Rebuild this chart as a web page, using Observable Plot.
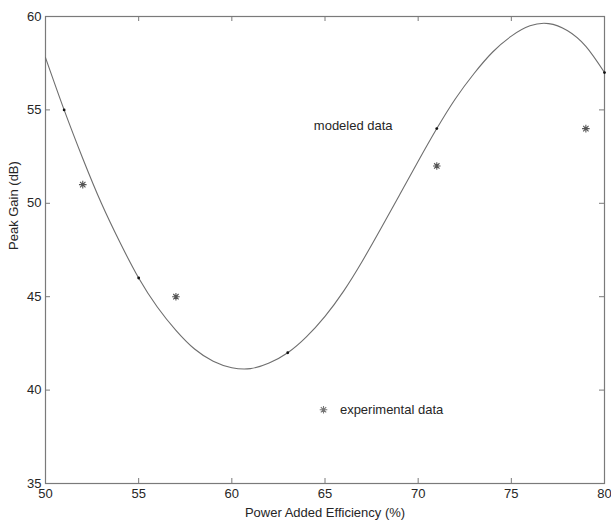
<!DOCTYPE html>
<html>
<head>
<meta charset="utf-8">
<script src="https://cdn.jsdelivr.net/npm/d3@7"></script>
<script src="https://cdn.jsdelivr.net/npm/@observablehq/plot@0.6"></script>
<style>
  html, body { margin: 0; padding: 0; background: #fff; }
  #chart { width: 611px; height: 520px; }
</style>
</head>
<body>
<div id="chart"></div>
<script>
// Fitted curve (one reading per x unit)
const curveX = [50, 51, 52, 53, 54, 55, 56, 57, 58, 59, 60, 61, 62, 63, 64, 65, 66, 67, 68, 69, 70, 71, 72, 73, 74, 75, 76, 77, 78, 79, 80];
const curveY = [57.8, 55.0, 52.4, 50.0, 47.9, 46.0, 44.45, 43.2, 42.2, 41.55, 41.2, 41.15, 41.45, 42.0, 42.85, 43.95, 45.3, 46.9, 48.65, 50.45, 52.25, 54.0, 55.6, 56.95, 58.1, 58.95, 59.5, 59.62, 59.25, 58.4, 57.0];

// Modeled data points
const modelX = [51, 55, 63, 71, 80];
const modelY = [55, 46, 42, 54, 57];

// Experimental data points
const expX = [52, 57, 71, 79];
const expY = [51, 45, 52, 54];

// Ticks
const xTicks = [50, 55, 60, 65, 70, 75, 80];
const yTicks = [35, 40, 45, 50, 55, 60];

// Annotations
const labels = [
  {x: 64.4, y: 54.16, text: "modeled data"},
  {x: 65.8, y: 38.96, text: "experimental data"}
];
const legendStar = [{x: 64.92, y: 38.95}];

const curve = curveX.map((x, i) => ({x, y: curveY[i]}));
const model = modelX.map((x, i) => ({x, y: modelY[i]}));
const exp = expX.map((x, i) => ({x, y: expY[i]}));

const star8 = {
  draw(ctx, size) {
    const r = Math.sqrt(size / Math.PI);
    for (let k = 0; k < 4; k++) {
      const a = k * Math.PI / 4;
      const c = Math.cos(a) * r, s = Math.sin(a) * r;
      ctx.moveTo(-c, -s);
      ctx.lineTo(c, s);
    }
  }
};

const W = 611, H = 520;
const mL = 45, mR = 7, mT = 16, mB = 37;
const plotH = H - mT - mB;
const plotW = W - mL - mR;
const axisColor = "#7a7a7a";
const textColor = "#262626";

const chart = Plot.plot({
  width: W,
  height: H,
  marginLeft: mL,
  marginRight: mR,
  marginTop: mT,
  marginBottom: mB,
  style: {fontFamily: "'Liberation Sans', Arial, sans-serif", fontSize: "13px", color: textColor, background: "#fff"},
  x: {domain: [50, 80]},
  y: {domain: [35, 60]},
  marks: [
    Plot.frame({stroke: axisColor, strokeWidth: 1.2}),
    // inward ticks
    Plot.ruleX(xTicks, {x: d => d, insetTop: plotH - 5, stroke: axisColor}),
    Plot.ruleX(xTicks, {x: d => d, insetBottom: plotH - 5, stroke: axisColor}),
    Plot.ruleY(yTicks, {y: d => d, insetRight: plotW - 5, stroke: axisColor}),
    Plot.ruleY(yTicks, {y: d => d, insetLeft: plotW - 5, stroke: axisColor}),
    Plot.axisX({ticks: xTicks, tickSize: 0, tickPadding: 5, label: null, fill: textColor, fontSize: 13}),
    Plot.axisY({ticks: yTicks, tickSize: 0, tickPadding: 4, label: null, fill: textColor, fontSize: 13}),
    Plot.text(["Power Added Efficiency (%)"], {frameAnchor: "bottom", dy: 29, lineAnchor: "middle", fill: textColor, fontSize: 13}),
    Plot.text(["Peak Gain (dB)"], {frameAnchor: "left", dx: -32, rotate: -90, lineAnchor: "middle", fill: textColor, fontSize: 13}),
    Plot.line(curve, {x: "x", y: "y", curve: "natural", stroke: "#6e6e6e", strokeWidth: 1.1}),
    Plot.dot(model, {x: "x", y: "y", r: 1.4, fill: "#111", stroke: null}),
    Plot.dot(exp, {x: "x", y: "y", symbol: star8, r: 3.8, stroke: "#555", strokeWidth: 1.1, fill: "none"}),
    Plot.dot(legendStar, {x: "x", y: "y", symbol: star8, r: 3.8, stroke: "#777", strokeWidth: 1.1, fill: "none"}),
    Plot.text(labels, {x: "x", y: "y", text: "text", textAnchor: "start", lineAnchor: "middle", fill: textColor, fontSize: 13})
  ]
});
document.getElementById("chart").appendChild(chart);
</script>
</body>
</html>
